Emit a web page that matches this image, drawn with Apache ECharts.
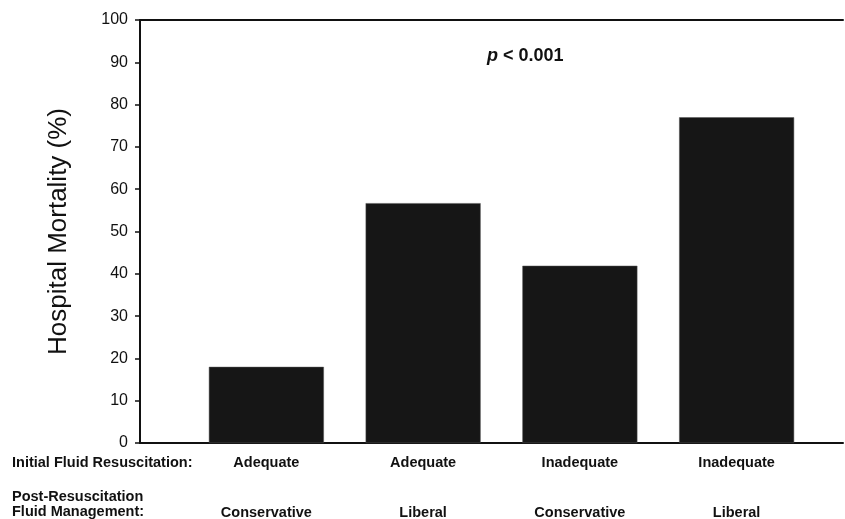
<!DOCTYPE html>
<html>
<head>
<meta charset="utf-8">
<script src="https://cdn.jsdelivr.net/npm/echarts@6/dist/echarts.min.js"></script>
<style>html,body{margin:0;padding:0;background:#fff}#c{width:845px;height:519px}</style>
</head>
<body>
<div id="c"></div>
<script>
// Data
const initialResuscitation = ['Adequate', 'Adequate', 'Inadequate', 'Inadequate'];
const postFluidManagement = ['Conservative', 'Liberal', 'Conservative', 'Liberal'];
const mortality = [18, 56.7, 41.9, 77];
const yTicks = { min: 0, max: 100, interval: 10 };
const rowLabels = ['Initial Fluid Resuscitation:', 'Post-Resuscitation', 'Fluid Management:'];
const yTitle = 'Hospital Mortality (%)';
const annotation = 'p < 0.001';

const categories = initialResuscitation.map((a, i) => a + '|' + postFluidManagement[i]);
const font = 'Liberation Sans, Arial, sans-serif';

const chart = echarts.init(document.getElementById('c'), null, { renderer: 'canvas' });
chart.setOption({
  backgroundColor: '#fff',
  animation: false,
  grid: [
    { left: 140, right: 2, top: 20, bottom: 76, containLabel: false, outerBoundsMode: 'none' },
    { left: 188, right: 30, top: 20, bottom: 76, containLabel: false, outerBoundsMode: 'none' }
  ],
  xAxis: [
    { gridIndex: 0, type: 'value', min: 0, max: 1, position: 'bottom',
      axisLine: { show: true, lineStyle: { color: '#111', width: 2 } },
      axisTick: { show: false }, axisLabel: { show: false }, splitLine: { show: false } },
    { gridIndex: 0, type: 'value', min: 0, max: 1, position: 'top',
      axisLine: { show: true, lineStyle: { color: '#111', width: 2 } },
      axisTick: { show: false }, axisLabel: { show: false }, splitLine: { show: false } },
    { gridIndex: 1, type: 'category', data: categories,
      axisLine: { show: false }, axisTick: { show: false }, splitLine: { show: false },
      axisLabel: {
        margin: 12,
        interval: 0,
        formatter: function (v) {
          const p = v.split('|');
          return '{a|' + p[0] + '}\n{a|}\n{a|}\n{a|' + p[1] + '}';
        },
        rich: { a: { fontFamily: font, fontWeight: 'bold', fontSize: 14.5, lineHeight: 16.67, color: '#111' } }
      } }
  ],
  yAxis: [
    { gridIndex: 0, type: 'value', min: yTicks.min, max: yTicks.max, interval: yTicks.interval,
      name: yTitle, nameLocation: 'middle', nameGap: 68,
      nameTextStyle: { fontFamily: font, fontSize: 26, color: '#111' },
      axisLine: { show: true, lineStyle: { color: '#111', width: 2 } },
      axisTick: { show: true, inside: false, length: 5, lineStyle: { color: '#111', width: 1.5 } },
      axisLabel: { margin: 12, fontFamily: font, fontSize: 16, color: '#111' },
      splitLine: { show: false } },
    { gridIndex: 1, type: 'value', min: yTicks.min, max: yTicks.max, show: false, splitLine: { show: false } }
  ],
  series: [
    { type: 'bar', xAxisIndex: 2, yAxisIndex: 1, data: mortality, barWidth: 115,
      itemStyle: { color: '#161616', borderColor: '#555', borderWidth: 0.5 } }
  ],
  graphic: [
    { type: 'text', left: 487, top: 47,
      style: { text: '{i|p}{b| < 0.001}', rich: {
        i: { fontFamily: font, fontWeight: 'bold', fontStyle: 'italic', fontSize: 18, fill: '#111' },
        b: { fontFamily: font, fontWeight: 'bold', fontSize: 18, fill: '#111' } } } },
    { type: 'text', left: 12, top: 455,
      style: { text: rowLabels[0], font: 'bold 14.5px ' + font, fill: '#111' } },
    { type: 'text', left: 12, top: 489,
      style: { text: rowLabels[1], font: 'bold 14.5px ' + font, fill: '#111' } },
    { type: 'text', left: 12, top: 504,
      style: { text: rowLabels[2], font: 'bold 14.5px ' + font, fill: '#111' } }
  ]
});
</script>
</body>
</html>
